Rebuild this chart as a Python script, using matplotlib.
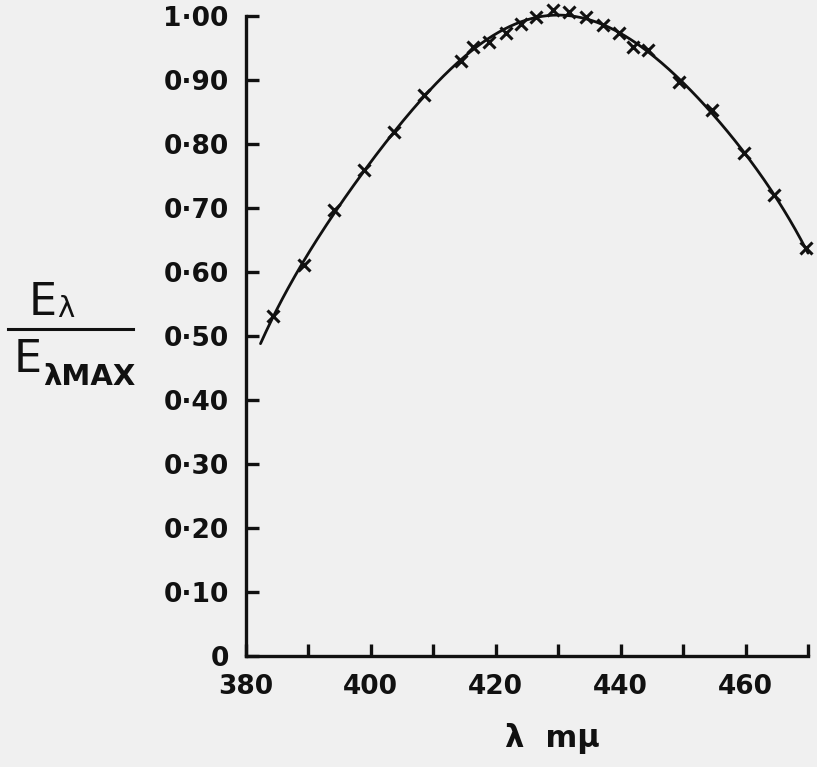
import numpy as np
import matplotlib
matplotlib.use("Agg")
import matplotlib.pyplot as plt
from matplotlib.lines import Line2D
from numpy.polynomial import Polynomial

# Relative spectral energy E_lambda / E_lambda,max against wavelength (m\u03bc)
wavelength = [384.4, 389.4, 394.2, 399.0, 403.8, 408.6, 414.4, 416.4, 419.0,
              421.7, 424.1, 426.5, 429.2, 431.8, 434.5, 437.2, 439.7, 442.0,
              444.4, 449.4, 454.7, 459.8, 464.6, 469.6]
ratio = [0.532, 0.611, 0.697, 0.759, 0.819, 0.877, 0.929, 0.952, 0.960,
         0.973, 0.988, 0.999, 1.009, 1.007, 0.999, 0.986, 0.973, 0.952,
         0.947, 0.897, 0.853, 0.786, 0.720, 0.637]
curve_start, curve_end = 382.4, 470.0

yticks = [0.0, 0.1, 0.2, 0.3, 0.4, 0.5, 0.6, 0.7, 0.8, 0.9, 1.0]
ytick_labels = ["0", "0\u00b710", "0\u00b720", "0\u00b730", "0\u00b740", "0\u00b750",
                "0\u00b760", "0\u00b770", "0\u00b780", "0\u00b790", "1\u00b700"]
xticks = [380, 390, 400, 410, 420, 430, 440, 450, 460, 470]
xtick_labels = ["380", "", "400", "", "420", "", "440", "", "460", ""]

W, H = 817, 767
bg = "#f0f0f0"
ink = "#111111"

fig = plt.figure(figsize=(W / 100, H / 100), dpi=100, facecolor=bg)
ax = fig.add_axes([245.5 / W, (H - 656) / H, 562.5 / W, 640 / H])
ax.set_facecolor(bg)

# smooth hand-drawn style curve through the measured points
fit = Polynomial.fit(wavelength, ratio, 6)
xs = np.linspace(curve_start, curve_end, 300)
ax.plot(xs, fit(xs), color=ink, lw=2.0, clip_on=False,
        solid_capstyle="round", zorder=3)
ax.plot(wavelength, ratio, linestyle="none", marker="x", ms=9, mew=2.2,
        color=ink, clip_on=False, zorder=4)

ax.set_xlim(380, 470)
ax.set_ylim(0, 1.0)
for s in ("top", "right"):
    ax.spines[s].set_visible(False)
for s in ("left", "bottom"):
    ax.spines[s].set_linewidth(2.4)
    ax.spines[s].set_color(ink)
    ax.spines[s].set_capstyle("projecting")

ax.set_yticks(yticks)
ax.set_yticklabels(ytick_labels)
ax.set_xticks(xticks)
ax.set_xticklabels(xtick_labels)
ax.tick_params(axis="both", direction="in", length=9, width=2.4, color=ink,
               labelcolor=ink, labelsize=19)
ax.tick_params(axis="y", pad=12)
ax.tick_params(axis="x", pad=13)
for lab in ax.get_xticklabels() + ax.get_yticklabels():
    lab.set_fontweight("bold")
    lab.set_family("DejaVu Sans")


def px(x, y):
    return x / W, 1 - y / H


# x axis title
fig.text(*px(552, 747), "\u03bb  m\u03bc", ha="center", va="baseline",
         fontsize=22, fontweight="bold", color=ink, family="DejaVu Sans")

# y axis title as a fraction
fig.text(*px(29, 315), "E", ha="left", va="baseline", fontsize=32,
         color=ink, family="DejaVu Sans")
fig.text(*px(57, 317), "\u03bb", ha="left", va="baseline", fontsize=21,
         color=ink, family="DejaVu Sans")
fig.add_artist(Line2D([8 / W, 133 / W], [1 - 329 / H, 1 - 329 / H],
                      transform=fig.transFigure, color=ink, lw=2.2))
fig.text(*px(14, 372), "E", ha="left", va="baseline", fontsize=32,
         color=ink, family="DejaVu Sans")
fig.text(*px(43, 385), "\u03bbMAX", ha="left", va="baseline", fontsize=21,
         fontweight="bold", color=ink, family="DejaVu Sans")

fig.savefig("out.png", dpi=100, facecolor=bg)
